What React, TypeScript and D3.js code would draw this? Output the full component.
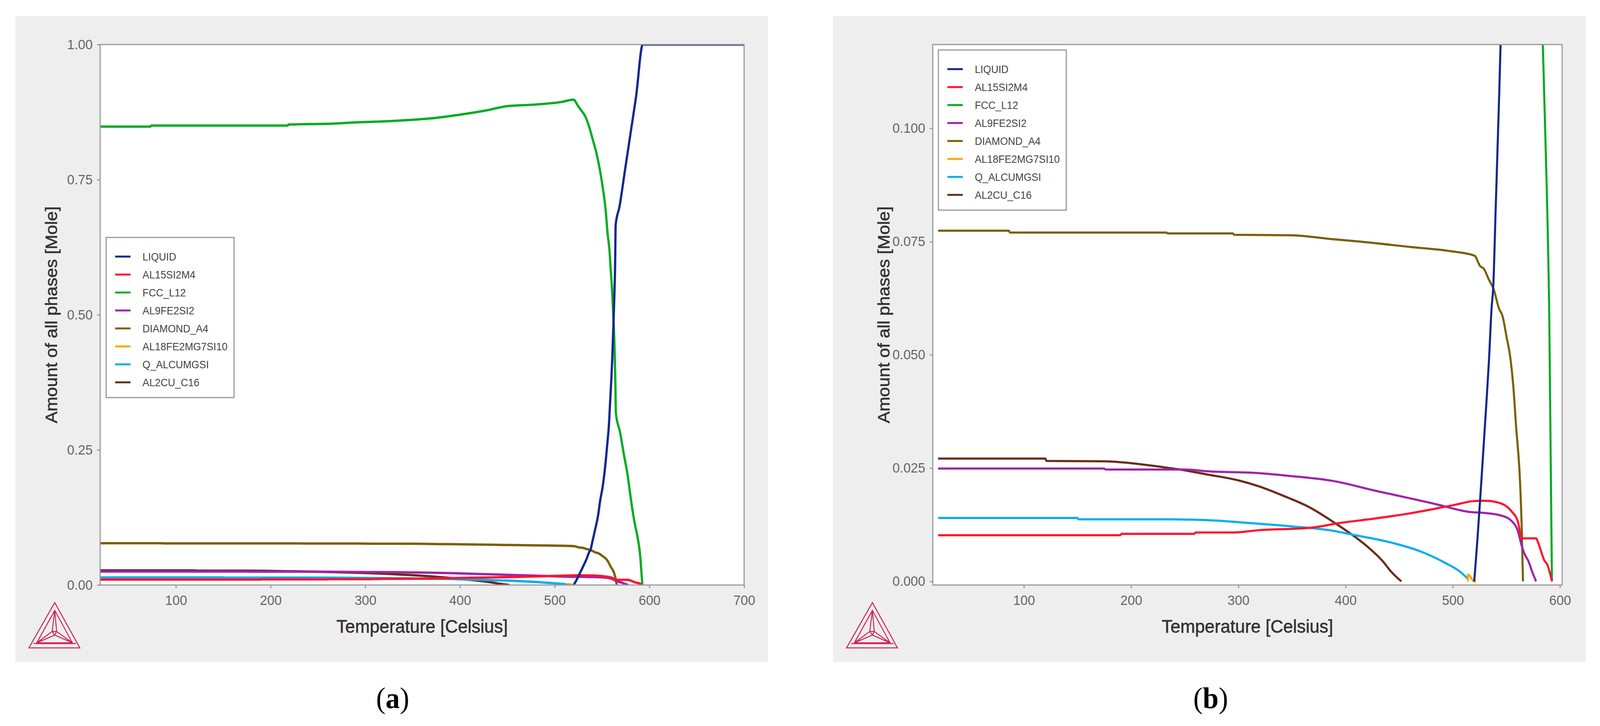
import { FC, useEffect, useRef } from 'react';
import * as d3 from 'd3';

type Pt = [number, number];

// [temperature, amount of phase]
const liquid: Pt[] = [
  [520, 0], [521.5, 0.0045], [523, 0.00925], [526.8, 0.0226], [531.4, 0.0395], [533.7, 0.0485], [536.2, 0.0603],
  [537.8, 0.0652], [540, 0.082], [542.6, 0.102], [546, 0.131], [547.9, 0.155], [550.6, 0.1816], [552.1, 0.201],
  [553.9, 0.23], [555.8, 0.266], [557.2, 0.295], [558.5, 0.338], [559.8, 0.381], [560.8, 0.421], [561.7, 0.466],
  [562.7, 0.519], [563.7, 0.584], [564.4, 0.667], [568.4, 0.7], [574, 0.765], [580, 0.835], [586, 0.905],
  [593, 1], [700, 1],
];
const al15si2m4: Pt[] = [
  [20, 0.0102], [190, 0.0102], [191, 0.0105], [259, 0.0105], [260, 0.0108], [295, 0.0108], [319, 0.0113],
  [366, 0.0118], [395, 0.0129], [428, 0.0139], [457, 0.0149], [480.6, 0.0159], [504, 0.017], [518.6, 0.0177],
  [530, 0.0178], [545, 0.0172], [555, 0.0154], [560.6, 0.0133], [564.5, 0.0095], [577.7, 0.0095], [580, 0.0083],
  [585.5, 0.0046], [588, 0.0038], [592.5, 0],
];
const fccL12: Pt[] = [
  [20, 0.848], [73, 0.848], [74, 0.85], [218, 0.85], [219, 0.852], [264, 0.8535], [291, 0.856], [329, 0.8586],
  [367, 0.863], [399, 0.87], [426, 0.8775], [450, 0.886], [480, 0.889], [507, 0.8937], [520, 0.898], [524, 0.888],
  [528, 0.878], [532, 0.868], [536, 0.85], [540, 0.825], [544.5, 0.796], [551, 0.732], [553.9, 0.692], [555.8, 0.651],
  [557.8, 0.62], [559.1, 0.584], [560.5, 0.548], [561.8, 0.5], [563.1, 0.444], [564, 0.379], [564.6, 0.318],
  [569, 0.2827], [573, 0.242], [577, 0.203], [579.6, 0.1695], [582, 0.14], [584, 0.1185], [587.6, 0.0874],
  [590, 0.0588], [592.5, 0],
];
const al9fe2si2: Pt[] = [
  [20, 0.0249], [175, 0.0249], [176, 0.0247], [250, 0.0247], [271, 0.0243], [319, 0.0239], [347, 0.0233],
  [390, 0.0221], [428, 0.02], [457, 0.0185], [485, 0.017], [509, 0.0156], [514.5, 0.01537], [530, 0.0151],
  [545.7, 0.0145], [555, 0.0133], [560.6, 0.0112], [564.5, 0.0077], [566.8, 0.00615], [570.7, 0.0044],
  [573.8, 0.0023], [577.7, 0],
];
const diamondA4: Pt[] = [
  [20, 0.0774], [86, 0.0774], [87, 0.077], [233, 0.077], [234, 0.0768], [295, 0.0768], [296, 0.0765], [350, 0.0764],
  [385, 0.0756], [414, 0.075], [461, 0.0738], [497.6, 0.0729], [520.3, 0.0719], [525.5, 0.0696], [529, 0.069],
  [533.7, 0.0666], [538.3, 0.0644], [543, 0.0603], [546.5, 0.0585], [550, 0.0542], [554, 0.0488], [556.4, 0.0433],
  [559, 0.0344], [562.9, 0.0212], [564.4, 0.0112], [565.5, 0],
];
const al18fe2mg7si10: Pt[] = [
  [514, 0], [514.3, 0.0015], [520, 0], [521.5, 0],
];
const qAlcumgsi: Pt[] = [
  [20, 0.014], [150, 0.014], [151, 0.0137], [232, 0.0137], [281, 0.0134], [309, 0.0129], [347, 0.0122],
  [385, 0.0113], [407, 0.0103], [447, 0.0083], [469, 0.0067], [492, 0.0042], [507, 0.0021], [514, 0.0006],
];
const al2cuC16: Pt[] = [
  [20, 0.0271], [120, 0.0271], [121, 0.0266], [176, 0.0265], [200, 0.0261], [224, 0.0254], [247.5, 0.0246],
  [271, 0.0236], [300, 0.0223], [319, 0.021], [343, 0.0188], [366, 0.0164], [390, 0.0129], [409, 0.0098],
  [419.3, 0.0079], [434.9, 0.0044], [442.7, 0.0021], [452, 0],
];

const phaseNames = ['LIQUID', 'AL15SI2M4', 'FCC_L12', 'AL9FE2SI2', 'DIAMOND_A4', 'AL18FE2MG7SI10', 'Q_ALCUMGSI', 'AL2CU_C16'];
const phaseColors = ['#12288e', '#ff1430', '#00ac22', '#a024a8', '#7a6000', '#ffa500', '#00aeef', '#6b2c1a'];
const phaseValues = [liquid, al15si2m4, fccL12, al9fe2si2, diamondA4, al18fe2mg7si10, qAlcumgsi, al2cuC16];

const xTicksA = [100, 200, 300, 400, 500, 600, 700];
const yTicksA = [0, 0.25, 0.5, 0.75, 1];
const xTicksB = [100, 200, 300, 400, 500, 600];
const yTicksB = [0, 0.025, 0.05, 0.075, 0.1];

const FONT = '"Liberation Sans", Arial, sans-serif';

interface PanelProps {
  id: string;
  offset: number; // left edge of the grey panel
  plotLeft: number;
  plotRight: number;
  xDomain: [number, number];
  yDomain: [number, number];
  xTicks: number[];
  yTicks: number[];
  yFormat: string;
  lineWidth: number;
  legendBox: [number, number, number, number]; // x, y, w, h
  caption: string;
  captionX: number;
}

const PLOT_TOP = 114;
const PLOT_BOTTOM = 1498;

const Panel: FC<PanelProps> = (p) => {
  const ref = useRef<SVGGElement | null>(null);

  useEffect(() => {
    if (!ref.current) return;
    const g = d3.select(ref.current);
    g.selectAll('*').remove();

    const x = d3.scaleLinear().domain(p.xDomain).range([p.plotLeft, p.plotRight]);
    const y = d3.scaleLinear().domain(p.yDomain).range([PLOT_BOTTOM, PLOT_TOP]);

    g.append('rect')
      .attr('x', p.offset)
      .attr('y', 41)
      .attr('width', 2007)
      .attr('height', 1654)
      .attr('fill', '#eeeeee');

    g.append('rect')
      .attr('x', p.plotLeft)
      .attr('y', PLOT_TOP)
      .attr('width', p.plotRight - p.plotLeft)
      .attr('height', PLOT_BOTTOM - PLOT_TOP)
      .attr('fill', '#ffffff');

    g.append('defs')
      .append('clipPath')
      .attr('id', `clip-${p.id}`)
      .append('rect')
      .attr('x', p.plotLeft)
      .attr('y', PLOT_TOP)
      .attr('width', p.plotRight - p.plotLeft)
      .attr('height', PLOT_BOTTOM - PLOT_TOP);

    const line = d3
      .line<Pt>()
      .x((d) => x(d[0]))
      .y((d) => y(d[1]))
      .curve(d3.curveMonotoneX);

    // the first legend entry ends up on top
    const curves = g.append('g').attr('clip-path', `url(#clip-${p.id})`);
    d3.range(phaseNames.length)
      .reverse()
      .forEach((i) => {
        curves
          .append('path')
          .attr('d', line(phaseValues[i]))
          .attr('fill', 'none')
          .attr('stroke', phaseColors[i])
          .attr('stroke-width', p.lineWidth)
          .attr('stroke-linejoin', 'round');
      });

    g.append('rect')
      .attr('x', p.plotLeft)
      .attr('y', PLOT_TOP)
      .attr('width', p.plotRight - p.plotLeft)
      .attr('height', PLOT_BOTTOM - PLOT_TOP)
      .attr('fill', 'none')
      .attr('stroke', '#999999')
      .attr('stroke-width', 3);

    const xAxis = g
      .append('g')
      .attr('transform', `translate(0,${PLOT_BOTTOM})`)
      .call(d3.axisBottom(x).tickValues(p.xTicks).tickFormat(d3.format('d')).tickSize(8).tickPadding(18));
    const yAxis = g
      .append('g')
      .attr('transform', `translate(${p.plotLeft},0)`)
      .call(d3.axisLeft(y).tickValues(p.yTicks).tickFormat(d3.format(p.yFormat)).tickSize(8).tickPadding(12));
    [xAxis, yAxis].forEach((a) => {
      a.select('.domain').remove();
      a.selectAll('line').attr('stroke', '#999999').attr('stroke-width', 3);
      a.selectAll('text').attr('fill', '#666666').style('font', `35px ${FONT}`);
    });

    g.append('text')
      .attr('x', (p.plotLeft + p.plotRight) / 2)
      .attr('y', 1620)
      .attr('text-anchor', 'middle')
      .attr('fill', '#333333')
      .attr('stroke', '#333333')
      .attr('stroke-width', 0.8)
      .style('font', `47px ${FONT}`)
      .text('Temperature [Celsius]');

    g.append('text')
      .attr('transform', `translate(${p.plotLeft - 115},806) rotate(-90)`)
      .attr('text-anchor', 'middle')
      .attr('fill', '#333333')
      .attr('stroke', '#333333')
      .attr('stroke-width', 0.8)
      .style('font', `45px ${FONT}`)
      .text('Amount of all phases [Mole]');

    // legend
    const [lx, ly, lw, lh] = p.legendBox;
    const legend = g.append('g');
    legend
      .append('rect')
      .attr('x', lx)
      .attr('y', ly)
      .attr('width', lw)
      .attr('height', lh)
      .attr('fill', '#ffffff')
      .attr('stroke', '#999999')
      .attr('stroke-width', 3);
    phaseNames.forEach((name, i) => {
      const ry = ly + 49 + i * 46;
      legend
        .append('line')
        .attr('x1', lx + 24)
        .attr('x2', lx + 65)
        .attr('y1', ry)
        .attr('y2', ry)
        .attr('stroke', phaseColors[i])
        .attr('stroke-width', 5);
      legend
        .append('text')
        .attr('x', lx + 97)
        .attr('y', ry + 10)
        .attr('fill', '#444444')
        .style('font', `27px ${FONT}`)
        .text(name);
    });

    // Thermo-Calc triangle logo
    const lg = g.append('g').attr('transform', `translate(${p.offset},0)`);
    const logo = [
      'M105,1543 L36,1659 L172,1659 Z',
      'M105,1563 L57,1646 L152,1646 Z',
      'M48,1648 L162,1648',
      'M105,1563 L98,1617 L110,1617 Z',
      'M98,1617 L57,1646 L105,1626 L152,1646 L110,1617',
      'M98,1617 L105,1626 L110,1617',
    ];
    logo.forEach((d) => {
      lg.append('path')
        .attr('d', d)
        .attr('fill', 'none')
        .attr('stroke', '#cf1f50')
        .attr('stroke-width', 2.5);
    });

    const caption = g
      .append('text')
      .attr('x', p.captionX)
      .attr('y', 1813)
      .attr('text-anchor', 'middle')
      .attr('fill', '#000000')
      .style('font', '76px "Liberation Serif", serif');
    caption.append('tspan').text('(');
    caption.append('tspan').attr('font-weight', 'bold').text(p.caption);
    caption.append('tspan').text(')');
  }, [p]);

  return <g ref={ref} />;
};

// the browser window turns out narrower than 4266, so the drawing is fitted to whatever width it has
const App: FC = () => (
  <svg
    viewBox="0 0 4266 1859"
    preserveAspectRatio="none"
    style={{ position: 'absolute', left: 0, top: 0, width: '100%', height: 1859, display: 'block', background: '#ffffff' }}
  >
    <Panel
      id="a"
      offset={41}
      plotLeft={267}
      plotRight={1984}
      xDomain={[20, 700]}
      yDomain={[0, 1]}
      xTicks={xTicksA}
      yTicks={yTicksA}
      yFormat=".2f"
      lineWidth={6}
      legendBox={[283, 608, 341, 410]}
      caption="a"
      captionX={1047}
    />
    <Panel
      id="b"
      offset={2221}
      plotLeft={2487}
      plotRight={4165}
      xDomain={[15, 602]}
      yDomain={[-0.0008, 0.1185]}
      xTicks={xTicksB}
      yTicks={yTicksB}
      yFormat=".3f"
      lineWidth={5.5}
      legendBox={[2502, 128, 341, 410]}
      caption="b"
      captionX={3228}
    />
  </svg>
);

export default App;
